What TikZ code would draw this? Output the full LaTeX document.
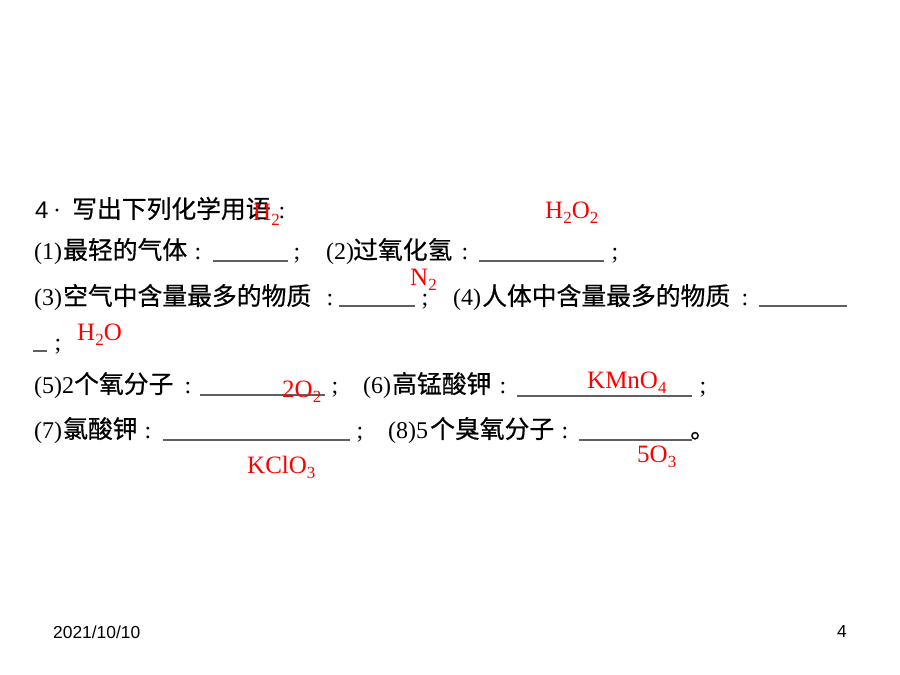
\documentclass[tikz,border=0pt]{standalone}
\usepackage{fontspec}
\setmainfont{Liberation Serif}
\newfontfamily\cjk[FakeBold=0.6]{Noto Sans CJK SC}
\newfontfamily\arialf{Liberation Sans}
\newcommand\csub[1]{\raisebox{-5pt}{\fontsize{17}{17}\selectfont #1}}
\definecolor{blankgray}{RGB}{95,95,95}
\begin{document}
\begin{tikzpicture}[x=1pt,y=-1pt,
  cn/.style={font=\cjk\fontsize{24.8}{28}\selectfont, anchor=base west, inner sep=0pt},
  lat/.style={font=\fontsize{24}{28}\selectfont, anchor=base west, inner sep=0pt},
  pun/.style={font=\fontsize{24}{28}\selectfont, anchor=base, inner sep=0pt},
  ans/.style={font=\fontsize{25}{28}\selectfont, text=red, anchor=base west, inner sep=0pt},
  blank/.style={draw=blankgray, line width=1.4pt},
  foot/.style={font=\arialf\fontsize{17.4}{20}\selectfont, anchor=west, inner sep=0pt}]
\useasboundingbox (0,0) rectangle (900,675);
% title
\node[font=\arialf\fontsize{24}{28}\selectfont, anchor=base west, inner sep=0pt] (t4) at (35,218) {4};
\node[pun] (tdot) at (57,218) {·};
\node[cn] (ttitle) at (72,218) {写出下列化学用语};
\node[pun] (tcol) at (282,218) {:};
\node[ans] (a1) at (253,220) {H\csub{2}};
% line 1
\node[lat] (l1a) at (34,259) {(1)};
\node[cn] (l1b) at (63,259) {最轻的气体};
\node[pun] (l1c) at (198,259) {:};
\draw[blank] (213,261) -- (288,261);
\node[pun] (l1d) at (297,259) {;};
\node[lat] (l1e) at (326,259) {(2)};
\node[cn] (l1f) at (353,259) {过氧化氢};
\node[pun] (l1g) at (465,259) {:};
\draw[blank] (479,261) -- (604,261);
\node[pun] (l1h) at (615,259) {;};
\node[ans] (a2) at (545,218) {H\csub{2}O\csub{2}};
% line 2
\node[lat] (l2a) at (34,305) {(3)};
\node[cn] (l2b) at (63,305) {空气中含量最多的物质};
\node[pun] (l2c) at (330,305) {:};
\draw[blank] (339,306) -- (415,306);
\node[pun] (l2d) at (425,305) {;};
\node[lat] (l2e) at (453,305) {(4)};
\node[cn] (l2f) at (482,305) {人体中含量最多的物质};
\node[pun] (l2g) at (745,305) {:};
\draw[blank] (759,306) -- (847,306);
\node[ans] (a3) at (410,285) {N\csub{2}};
% line 3
\draw[blank] (33,351) -- (47,351);
\node[pun] (l3a) at (58,350) {;};
\node[ans] (a4) at (77,340) {H\csub{2}O};
% line 4
\node[lat] (l4a) at (34,393) {(5)2};
\node[cn] (l4b) at (74,393) {个氧分子};
\node[pun] (l4c) at (188,393) {:};
\draw[blank] (200,395) -- (325,395);
\node[pun] (l4d) at (335,393) {;};
\node[lat] (l4e) at (363,393) {(6)};
\node[cn] (l4f) at (392,393) {高锰酸钾};
\node[pun] (l4g) at (503,393) {:};
\draw[blank] (517,396) -- (692,396);
\node[pun] (l4h) at (703,393) {;};
\node[ans] (a5) at (282,397) {2O\csub{2}};
\node[ans] (a6) at (587,388) {KMnO\csub{4}};
% line 5
\node[lat] (l5a) at (34,438) {(7)};
\node[cn] (l5b) at (63,438) {氯酸钾};
\node[pun] (l5c) at (148,438) {:};
\draw[blank] (163,440) -- (350,440);
\node[pun] (l5d) at (360,438) {;};
\node[lat] (l5e) at (388,438) {(8)5};
\node[cn] (l5f) at (430,438) {个臭氧分子};
\node[pun] (l5g) at (565,438) {:};
\draw[blank] (579,440) -- (692,440);
\node[cn] (l5h) at (690,438) {。};
\node[ans] (a7) at (247,473) {KClO\csub{3}};
\node[ans] (a8) at (637,462) {5O\csub{3}};
% footer
\node[foot] (date) at (53,632) {2021/10/10};
\node[foot] (page) at (837,632) {4};
\end{tikzpicture}
\end{document}
